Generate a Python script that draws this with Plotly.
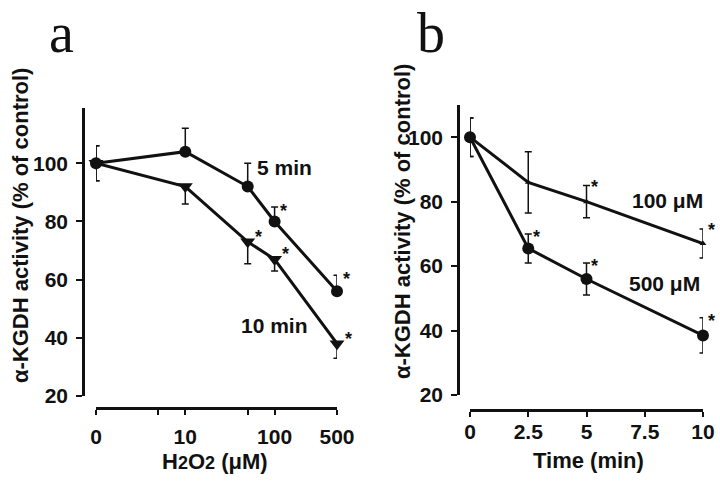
import plotly.graph_objects as go
import math

# ---------------- data ----------------
h2o2_conc = [0, 10, 50, 100, 500]
h2o2_ticks = [0, 5, 10, 50, 100, 500]
h2o2_ticktext = ["0", "", "10", "", "100", "500"]
act_5min = [100, 104, 92, 80, 56]
err_5min = [6, 8, 8, 5, 5.5]
sig_5min = [False, False, False, True, True]
act_10min = [100, 92, 73, 67, 38]
err_10min = [6, 6, 7.5, 4, 5]
sig_10min = [False, False, True, True, True]

time_min = [0, 2.5, 5, 10]
time_ticks = [0, 2.5, 5, 7.5, 10]
time_ticktext = ["0", "2.5", "5", "7.5", "10"]
act_100uM = [100, 86, 80, 67]
err_100uM = [6, 9.5, 5, 4.5]
sig_100uM = [False, False, True, True]
act_500uM = [100, 65.5, 56, 38.5]
err_500uM = [6, 4.5, 5, 5.5]
sig_500uM = [False, True, True, True]

y_ticks = [20, 40, 60, 80, 100]

# ---------------- helpers ----------------
W, H = 720, 482
def px(x):
    return x / W
def py(y):
    return 1 - y / H

# "0" concentration drawn at the start of the broken log axis (value 1)
def conc_pos(c):
    return c if c > 0 else 1

xa = [conc_pos(c) for c in h2o2_conc]
xa_ticks = [conc_pos(c) for c in h2o2_ticks]

BLACK = "#111111"
FONT = "Liberation Sans, Arial, sans-serif"

fig = go.Figure()

# ---- panel a ----
fig.add_trace(go.Scatter(
    x=xa, y=act_5min, mode="lines+markers",
    line=dict(color=BLACK, width=3),
    marker=dict(symbol="circle", size=12, color=BLACK),
    error_y=dict(type="data", symmetric=False, array=err_5min,
                 arrayminus=[err_5min[0]] + [0] * (len(err_5min) - 1),
                 color=BLACK, thickness=1.5, width=3.5),
    xaxis="x", yaxis="y", cliponaxis=False, showlegend=False))
fig.add_trace(go.Scatter(
    x=xa, y=act_10min, mode="lines+markers",
    line=dict(color=BLACK, width=3),
    marker=dict(symbol="triangle-down", size=13, color=BLACK),
    error_y=dict(type="data", symmetric=False,
                 array=[err_10min[0]] + [0] * (len(err_10min) - 1),
                 arrayminus=err_10min,
                 color=BLACK, thickness=1.5, width=3.5),
    xaxis="x", yaxis="y", cliponaxis=False, showlegend=False))

# ---- panel b ----
fig.add_trace(go.Scatter(
    x=time_min, y=act_100uM, mode="lines+markers",
    line=dict(color=BLACK, width=3),
    marker=dict(symbol="triangle-up", size=6, color=BLACK),
    error_y=dict(type="data", array=err_100uM, color=BLACK, thickness=1.5, width=3.5),
    xaxis="x2", yaxis="y2", cliponaxis=False, showlegend=False))
fig.add_trace(go.Scatter(
    x=time_min, y=act_500uM, mode="lines+markers",
    line=dict(color=BLACK, width=3),
    marker=dict(symbol="circle", size=12, color=BLACK),
    error_y=dict(type="data", array=err_500uM, color=BLACK, thickness=1.5, width=3.5),
    xaxis="x2", yaxis="y2", cliponaxis=False, showlegend=False))

annotations = []

# significance stars
def add_stars(xs, ys, errs, sig, xref, yref, above_err, log=False, xshift=11, yshift=2):
    for x, y, e, s in zip(xs, ys, errs, sig):
        if not s:
            continue
        yy = y + e if above_err else y
        annotations.append(dict(
            x=math.log10(x) if log else x, y=yy, xref=xref, yref=yref,
            text="<b>*</b>", showarrow=False, xshift=xshift, yshift=yshift,
            font=dict(family=FONT, size=18, color=BLACK)))

add_stars(xa, act_5min, err_5min, sig_5min, "x", "y", True, log=True, xshift=9, yshift=-4)
add_stars(xa, act_10min, err_10min, sig_10min, "x", "y", False, log=True, xshift=11, yshift=5)
add_stars(time_min, act_100uM, err_100uM, sig_100uM, "x2", "y2", True, xshift=8, yshift=-1)
add_stars(time_min, act_500uM, err_500uM, sig_500uM, "x2", "y2", True, xshift=8, yshift=-3)

def txt(x, y, text, size=21, family=FONT, angle=0, yanchor="middle", yshift=0):
    annotations.append(dict(x=px(x), y=py(y), xref="paper", yref="paper",
                            text=text, showarrow=False, textangle=angle,
                            xanchor="center", yanchor=yanchor, yshift=yshift,
                            font=dict(family=family, size=size, color=BLACK)))

# panel letters
txt(61, 0, "a", size=56, family="Liberation Serif, Times New Roman, serif",
    yanchor="top", yshift=0)
txt(431, 0, "b", size=56, family="Liberation Serif, Times New Roman, serif",
    yanchor="top", yshift=0)

# series labels
txt(284, 167, "<b>5 min</b>")
txt(274, 325, "<b>10 min</b>")
txt(667, 200, "<b>100 μM</b>")
txt(664, 283, "<b>500 μM</b>")

# axis titles
ytitle = "<b>α-KGDH activity (% of control)</b>"
txt(20, 226, ytitle, size=22, angle=-90)
txt(403, 222, ytitle, size=22, angle=-90)
txt(215, 461, "<b>H<span style='font-size:18px'>2</span>O<span style='font-size:18px'>2</span> (μM)</b>", size=22)
txt(588, 460, "<b>Time (min)</b>", size=22)

axis_common = dict(showgrid=False, zeroline=False, showline=True, linecolor=BLACK,
                   linewidth=2.5, ticks="outside", tickcolor=BLACK, tickwidth=2,
                   automargin=False,
                   tickfont=dict(family=FONT, size=21, color=BLACK, weight="bold"))

fig.update_layout(
    template="none",
    width=W, height=H,
    margin=dict(l=0, r=0, t=0, b=0, pad=0),
    paper_bgcolor="white", plot_bgcolor="white",
    xaxis=dict(axis_common, type="log", domain=[px(96), px(337)],
               range=[0, math.log10(500)], anchor="free", position=py(408),
               tickvals=xa_ticks, ticktext=h2o2_ticktext, ticklen=5,
               ticklabelstandoff=4),
    yaxis=dict(axis_common, domain=[py(396), py(108)], range=[20, 119],
               anchor="free", position=px(83), tickvals=y_ticks, ticklen=6,
               ticklabelstandoff=4),
    xaxis2=dict(axis_common, domain=[px(470), px(703)], range=[0, 10],
                anchor="free", position=py(410), tickvals=time_ticks,
                ticktext=time_ticktext, ticklen=5, ticklabelstandoff=-3),
    yaxis2=dict(axis_common, domain=[py(395), py(105)], range=[20, 110],
                anchor="free", position=px(458), tickvals=y_ticks, ticklen=6,
                ticklabelstandoff=4),
    annotations=annotations,
)

fig.write_html("out.html",
               config={"displayModeBar": False},
               post_script="document.body.style.margin='0';document.body.style.padding='0';")
